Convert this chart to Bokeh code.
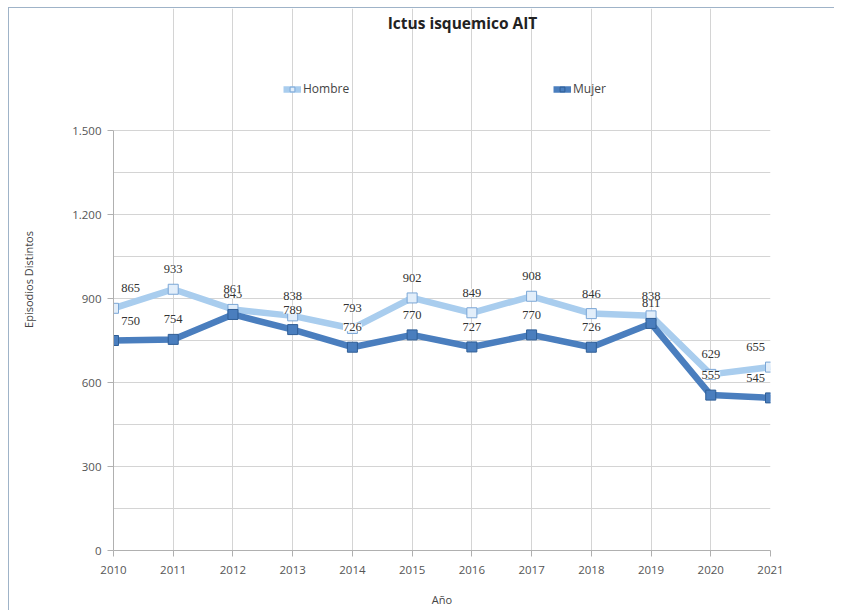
from bokeh.plotting import figure
from bokeh.models import (ColumnDataSource, FixedTicker, Legend, LegendItem, LabelSet, Label, Range1d)
from bokeh.embed import file_html
from bokeh.resources import INLINE

years = [2010, 2011, 2012, 2013, 2014, 2015, 2016, 2017, 2018, 2019, 2020, 2021]
hombre = [865, 933, 861, 838, 793, 902, 849, 908, 846, 838, 629, 655]
mujer = [750, 754, 843, 789, 726, 770, 727, 770, 726, 811, 555, 545]
y_ticks = [0, 300, 600, 900, 1200, 1500]
y_tick_labels = ["0", "300", "600", "900", "1.200", "1.500"]

title_text = "Ictus isquemico AIT"
x_label = "Año"
y_label = "Episodios Distintos"

# layout (pixels, relative to the figure's own top-left corner)
OX, OY = 9, 8                      # figure offset on the page (css margin + border)
W, H = 826, 603
left = 113 - OX
right_edge = 770 - OX
top_plot = 130 - OY
bottom_plot = 550 - OY
frame_top = 0
y_max = y_ticks[-1]
y_end = y_max * (bottom_plot - frame_top) / (bottom_plot - top_plot)

# keep edge labels inside the plot area (justify)
x_off = [17 if x == years[0] else (-15 if x == years[-1] else 0) for x in years]

src = ColumnDataSource(dict(
    x=years, h=hombre, m=mujer, xo=x_off,
    hl=[str(v) for v in hombre], ml=[str(v) for v in mujer],
))

p = figure(width=W, height=H, output_backend="svg", toolbar_location=None,
           x_range=Range1d(years[0], years[-1]), y_range=Range1d(0, y_end),
           min_border_left=left, min_border_right=W - right_edge,
           min_border_top=frame_top, min_border_bottom=H - bottom_plot)
p.outline_line_color = None
p.background_fill_color = "white"
p.border_fill_color = "white"

# title (drawn as a label in the upper, empty part of the frame)
p.add_layout(Label(x=462 - 113, y=bottom_plot - (22 - OY), x_units="screen", y_units="screen",
                   text=title_text, text_align="center", text_baseline="middle",
                   text_font="Open Sans", text_font_size="15.5px",
                   text_font_style="bold", text_color="#222222"))

# grids
p.xgrid.ticker = FixedTicker(ticks=years)
p.xgrid.bounds = (0, y_max)
p.ygrid.ticker = FixedTicker(ticks=list(range(0, y_max + 1, 150)))
for g in (p.xgrid[0], p.ygrid[0]):
    g.grid_line_color = "#d4d4d4"
    g.grid_line_width = 1

# axes
p.xaxis.ticker = FixedTicker(ticks=years)
p.yaxis.ticker = FixedTicker(ticks=y_ticks)
p.yaxis.bounds = (0, y_max)
p.yaxis.major_label_overrides = {t: l for t, l in zip(y_ticks, y_tick_labels)}
for ax in (p.xaxis[0], p.yaxis[0]):
    ax.axis_line_color = "#b0b0b0"
    ax.major_tick_line_color = "#b0b0b0"
    ax.major_tick_out = 6
    ax.major_tick_in = 0
    ax.minor_tick_line_color = None
    ax.major_label_text_font = "Open Sans"
    ax.major_label_text_font_size = "11.5px"
    ax.major_label_text_color = "#555555"
    ax.axis_label_text_font = "Open Sans"
    ax.axis_label_text_font_size = "11px"
    ax.axis_label_text_font_style = "normal"
    ax.axis_label_text_color = "#444444"
p.xaxis.axis_label = x_label
p.yaxis.axis_label = y_label
p.xaxis.major_label_standoff = 9
p.xaxis.axis_label_standoff = 15
p.yaxis.major_label_standoff = 6
p.yaxis.axis_label_standoff = 33

# lines
lh = p.line("x", "h", source=src, line_color="#a9cdee", line_width=6.5)
sh = p.scatter("x", "h", source=src, marker="square", size=10,
               fill_color="#e2eefa", line_color="#7aa6d6", line_width=1)
lm = p.line("x", "m", source=src, line_color="#4a7ebe", line_width=6.5)
sm = p.scatter("x", "m", source=src, marker="square", size=10,
               fill_color="#4a7ebe", line_color="#2f5e96", line_width=1)

# data labels
for col, lab in (("m", "ml"), ("h", "hl")):
    p.add_layout(LabelSet(x="x", y=col, text=lab, source=src, x_offset="xo",
                          text_align="center", text_baseline="middle", y_offset=20,
                          text_font="DejaVu Sans", text_font_size="12.5px",
                          text_color="#333333",
                          background_fill_color="white", background_fill_alpha=1.0))

# legends
def mk_legend(label, rends, loc):
    return Legend(items=[LegendItem(label=label, renderers=rends)], location=loc,
                  orientation="horizontal", border_line_color=None,
                  background_fill_alpha=0, padding=0, margin=0, spacing=0,
                  glyph_width=18, glyph_height=12, label_standoff=2,
                  label_text_font="Open Sans", label_text_font_size="12px",
                  label_text_color="#444444")

leg_y = bottom_plot - (88 - OY) - 9
p.add_layout(mk_legend("Hombre", [lh, sh], (283 - 113, leg_y)))
p.add_layout(mk_legend("Mujer", [lm, sm], (553 - 113, leg_y)))

p.styles = {"margin-top": "7px", "margin-left": "8px",
            "border-top": "1px solid #9fb3c8", "border-left": "1px solid #9fb3c8"}

open("out.html", "w").write(file_html(p, INLINE))
